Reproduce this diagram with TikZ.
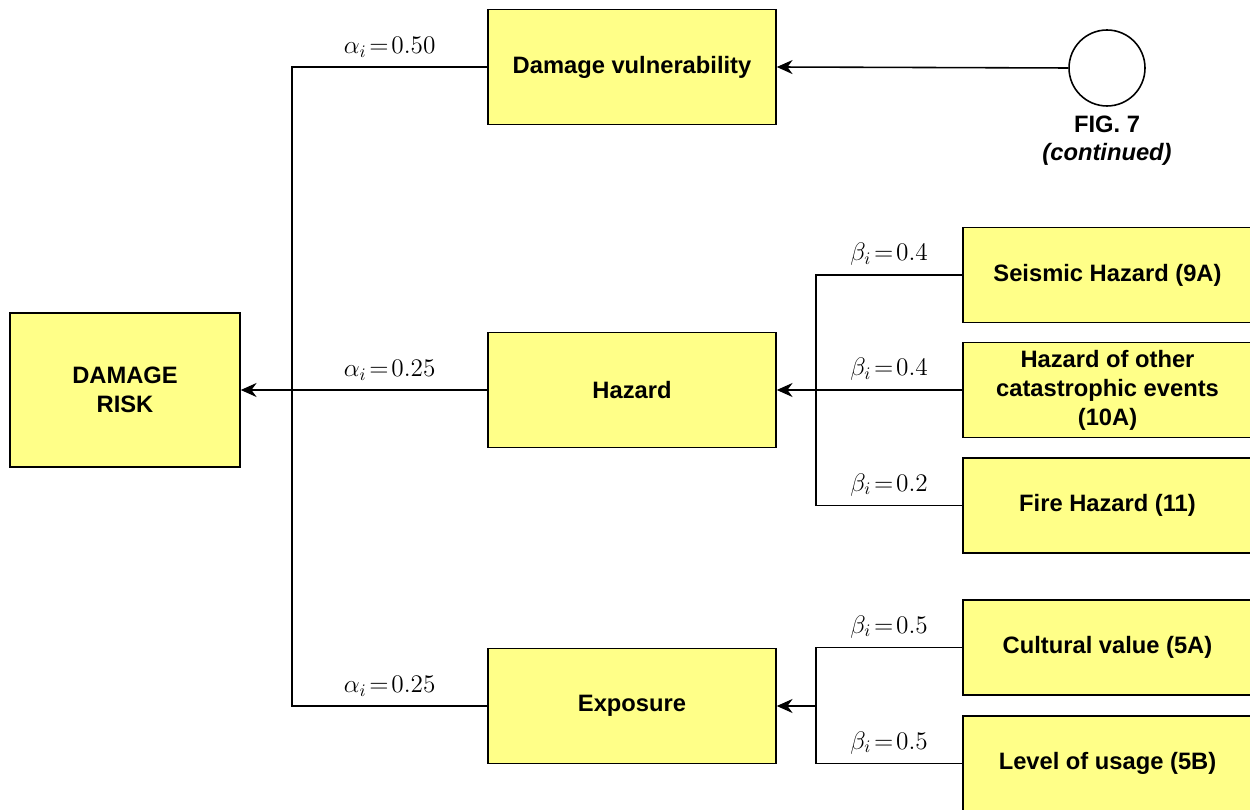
\documentclass[tikz,border=0pt]{standalone}
\usepackage{fontspec}
\setmainfont{Liberation Sans}
\usetikzlibrary{arrows.meta}
\definecolor{boxyellow}{RGB}{255,255,136}

\begin{document}
\begin{tikzpicture}[x=0.02cm, y=-0.02cm, >={Stealth[length=9pt, width=8pt]},
    every box/.style={draw, line width=0.9pt, fill=boxyellow, align=center, inner sep=1pt,
        font=\bfseries\fontsize{13.5}{16.5}\selectfont},
    root box/.style={minimum width=4.6cm, minimum height=3.08cm},
    mid box/.style={minimum width=5.76cm, minimum height=2.3cm},
    leaf box/.style={minimum width=5.78cm, minimum height=1.9cm},
    weight/.style={above, inner sep=5pt, font=\fontsize{14.4}{16}\selectfont},
    link/.style={line width=0.9pt}]

    \useasboundingbox (0,0) rectangle (1250,810);

    % boxes
    \node [every box/.try, root box] (risk) at (125,390) {DAMAGE\\RISK};

    \foreach \m/\t/\y in {vuln/Damage vulnerability/67, hazard/Hazard/390, exposure/Exposure/706}
    \node [every box/.try, mid box] (\m) at (632,\y) {\t};

    \foreach \m/\t/\y in {seismic/{Seismic Hazard (9A)}/275, other/{Hazard of other\\catastrophic events\\(10A)}/390,
        fire/{Fire Hazard (11)}/505.5, cultural/{Cultural value (5A)}/647.5, usage/{Level of usage (5B)}/763.5}
    \node [every box/.try, leaf box] (\m) at (1107.5,\y) {\t};

    \node [draw, circle, line width=0.9pt, minimum size=1.52cm] (fig) at (1107,68) {};
    \node [align=center, font=\bfseries\fontsize{13.5}{16}\selectfont] (fig-label) at (1107,141)
        {FIG. 7\\\textit{(continued)}};

    % splits
    \coordinate (split-a) at (292,390);
    \coordinate (split-b) at (816,390);
    \coordinate (split-c) at (816,706);

    % connectors
    \draw [link, ->] (fig.west) -- (vuln.east);

    \draw [link] (vuln.west) -- node [weight] {$\alpha_i\!=\!0.50$} (vuln.west -| split-a) -- (split-a);
    \draw [link] (exposure.west) -- node [weight] {$\alpha_i\!=\!0.25$} (exposure.west -| split-a) -- (split-a);
    \draw [link] (hazard.west) -- node [weight] {$\alpha_i\!=\!0.25$} (split-a);
    \draw [link, ->] (split-a) -- (risk.east);

    \foreach \m/\l in {seismic/0.4, fire/0.2}
    \draw [link] (\m.west) -- node [weight] {$\beta_i\!=\!\l$} (\m.west -| split-b) -- (split-b);
    \draw [link] (other.west) -- node [weight] {$\beta_i\!=\!0.4$} (split-b);
    \draw [link, ->] (split-b) -- (hazard.east);

    \foreach \m/\l in {cultural/0.5, usage/0.5}
    \draw [link] (\m.west) -- node [weight] {$\beta_i\!=\!\l$} (\m.west -| split-c) -- (split-c);
    \draw [link, ->] (split-c) -- (exposure.east);

\end{tikzpicture}
\end{document}
